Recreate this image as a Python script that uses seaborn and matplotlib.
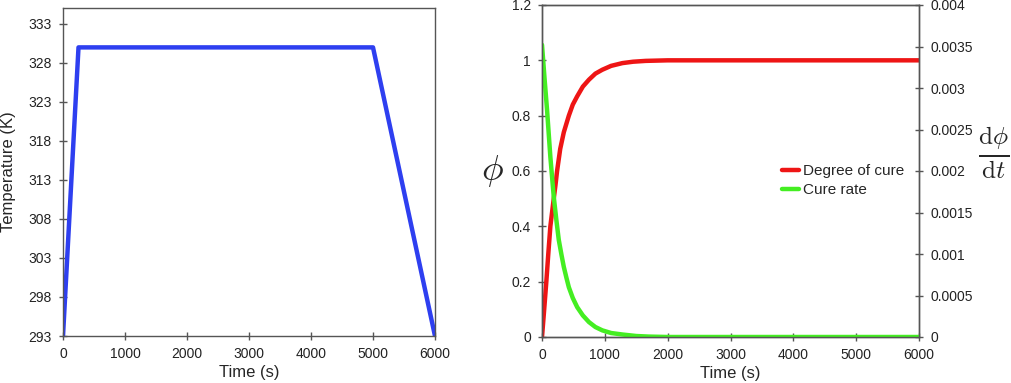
import numpy as np
import pandas as pd
import seaborn as sns
import matplotlib.pyplot as plt
from matplotlib.ticker import FuncFormatter

# temperature cycle
temp_time = [0, 250, 5000, 6000]
temp_K = [293, 330, 330, 293]

# degree of cure
phi_time = [0, 35, 69, 100, 133, 160, 187, 215, 240, 290, 347, 427, 490, 560, 650, 747,
            850, 960, 1100, 1280, 1450, 1650, 2000, 2500, 6000]
phi_val = [0, 0.1, 0.2, 0.3, 0.4, 0.45, 0.5, 0.55, 0.6, 0.68, 0.74, 0.8, 0.84, 0.87, 0.905, 0.93,
           0.952, 0.966, 0.98, 0.99, 0.995, 0.998, 1.0, 1.0, 1.0]

# cure rate (right axis)
rate_time = [0, 40, 80, 133, 187, 230, 267, 310, 347, 390, 427, 490, 560, 650, 747, 850,
             960, 1100, 1280, 1500, 1700, 2000, 6000]
rate_val = [0.00352, 0.00312, 0.00274, 0.00217, 0.00169, 0.00140, 0.00117, 0.00099, 0.000845,
            0.00071, 0.0006, 0.00047, 0.00036, 0.00026, 0.00018, 0.00012,
            0.00008, 0.000048, 0.00003, 0.000012, 0.000005, 0.0, 0.0]

sns.set_style("ticks")
plt.rcParams['font.family'] = ['Liberation Sans', 'DejaVu Sans']
plt.rcParams['mathtext.fontset'] = 'cm'

W, H = 1011, 383
fig = plt.figure(figsize=(W / 100, H / 100), dpi=100)

def box(x0, y0, x1, y1):
    return [x0 / W, 1 - y1 / H, (x1 - x0) / W, (y1 - y0) / H]

spine_col = "#555555"
tick_kw = dict(direction="inout", length=6, width=1, color=spine_col, labelsize=10,
               labelcolor="#222222", pad=5)

# left panel
ax1 = fig.add_axes(box(63, 8, 435, 336))
df_t = pd.DataFrame({"t": temp_time, "T": temp_K})
sns.lineplot(data=df_t, x="t", y="T", ax=ax1, color="#2e3ff0", linewidth=3.2)
ax1.set_xlim(0, 6000)
ax1.set_ylim(293, 335.05)
ax1.set_yticks(range(293, 334, 5))
ax1.set_xticks(range(0, 6001, 1000))
ax1.set_xlabel("Time (s)", fontsize=12, labelpad=3)
ax1.set_ylabel("Temperature (K)", fontsize=12)
ax1.yaxis.set_label_coords(-0.127, 0.5)
ax1.tick_params(**tick_kw)
for s in ax1.spines.values():
    s.set_color(spine_col)
    s.set_linewidth(1)

# right panel
ax2 = fig.add_axes(box(542, 5, 919, 337))
df_p = pd.DataFrame({"t": phi_time, "phi": phi_val})
df_r = pd.DataFrame({"t": rate_time, "rate": rate_val})
sns.lineplot(data=df_p, x="t", y="phi", ax=ax2, color="#ee1515", linewidth=3.2,
             label="Degree of cure", legend=False)
ax3 = ax2.twinx()
sns.lineplot(data=df_r, x="t", y="rate", ax=ax3, color="#44ee22", linewidth=3.2,
             label="Cure rate", legend=False)
ax2.set_xlim(0, 6000)
ax2.set_ylim(0, 1.2)
ax3.set_ylim(0, 0.004)
ax2.set_xticks(range(0, 6001, 1000))
ax2.set_yticks(np.arange(0, 1.21, 0.2))
ax3.set_yticks(np.arange(0, 0.00401, 0.0005))
ax2.yaxis.set_major_formatter(FuncFormatter(lambda v, p: f"{v:g}"))
ax3.yaxis.set_major_formatter(FuncFormatter(lambda v, p: f"{v:g}"))
ax2.set_xlabel("Time (s)", fontsize=12, labelpad=3)
ax2.set_ylabel(r"$\phi$", fontsize=26, rotation=0, labelpad=14, va="center")
ax3.set_ylabel("")
fig.text(994 / W, 1 - 153 / H, r"$\frac{\mathrm{d}\phi}{\mathrm{d}t}$", fontsize=26,
         ha="center", va="center")
ax2.tick_params(**tick_kw)
ax3.tick_params(**tick_kw)
for a in (ax2, ax3):
    for s in a.spines.values():
        s.set_color(spine_col)
        s.set_linewidth(1)

h1, l1 = ax2.get_legend_handles_labels()
h2, l2 = ax3.get_legend_handles_labels()
ax3.legend(h1 + h2, l1 + l2, loc="upper left", bbox_to_anchor=(782 / W, 1 - 164 / H),
           bbox_transform=fig.transFigure, frameon=False, fontsize=11,
           handlelength=1.1, handletextpad=0.3, labelspacing=0.35, borderaxespad=0,
           borderpad=0)

fig.savefig("out.png", dpi=100)
